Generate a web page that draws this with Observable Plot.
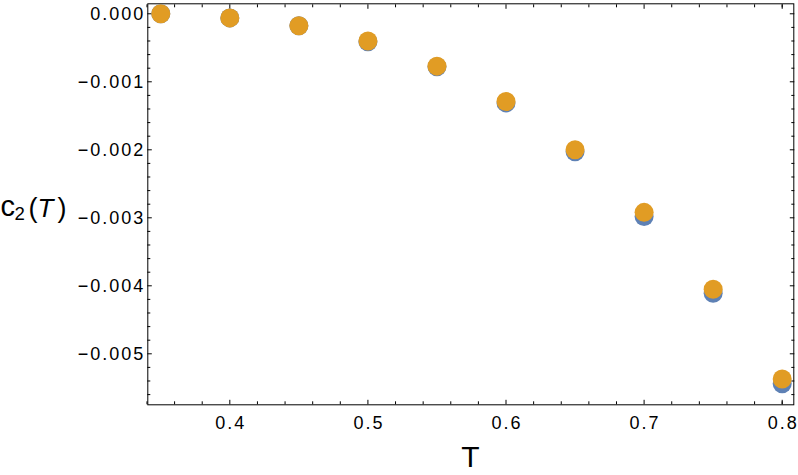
<!DOCTYPE html>
<html>
<head>
<meta charset="utf-8">
<script src="https://cdn.jsdelivr.net/npm/d3@7"></script>
<script src="https://cdn.jsdelivr.net/npm/@observablehq/plot@0.6"></script>
<style>
  html, body { margin: 0; padding: 0; background: #fff; }
  #chart svg { display: block; }
</style>
</head>
<body>
<div id="chart"></div>
<script>
const temps = [0.35, 0.40, 0.45, 0.50, 0.55, 0.60, 0.65, 0.70, 0.75, 0.80];
const seriesBlue = [0.0000, -0.00006, -0.000175, -0.00041, -0.00078, -0.00131, -0.00203, -0.00298, -0.00411, -0.00544];
const seriesOrange = [0.0000, -0.00006, -0.000175, -0.00040, -0.00077, -0.00129, -0.00200, -0.00292, -0.00405, -0.00537];
const xTicks = [0.4, 0.5, 0.6, 0.7, 0.8];
const xMinor = [0.34, 0.36, 0.38, 0.42, 0.44, 0.46, 0.48, 0.52, 0.54, 0.56, 0.58, 0.62, 0.64, 0.66, 0.68, 0.72, 0.74, 0.76, 0.78, 0.80];
const yTicks = [0, -0.001, -0.002, -0.003, -0.004, -0.005];
const yMinor = [-0.0002, -0.0004, -0.0006, -0.0008, -0.0012, -0.0014, -0.0016, -0.0018, -0.0022, -0.0024, -0.0026, -0.0028, -0.0032, -0.0034, -0.0036, -0.0038, -0.0042, -0.0044, -0.0046, -0.0048, -0.0052, -0.0054, -0.0056];

const blueData = temps.map((t, i) => ({T: t, c: seriesBlue[i]}));
const orangeData = temps.map((t, i) => ({T: t, c: seriesOrange[i]}));

const fmtY = d3.format(".3f");
const fmtX = d3.format(".1f");
const blank = () => "";
const FONT = "'Liberation Sans', Arial, Helvetica, sans-serif";

const W = 798, H = 475;
const chart = Plot.plot({
  width: W,
  height: H,
  marginLeft: 147.3,
  marginRight: 4.7,
  marginTop: 3.3,
  marginBottom: 70.7,
  style: {fontFamily: FONT, fontSize: "18px", color: "black", background: "white"},
  x: {domain: [0.3406, 0.8084], label: null},
  y: {domain: [-0.00575, 0.000147], label: null},
  marks: [
    // inward ticks on all four sides
    Plot.axisX({anchor: "bottom", ticks: xTicks, tickSize: -4.5, tickFormat: blank, label: null}),
    Plot.axisX({anchor: "bottom", ticks: xMinor, tickSize: -3, tickFormat: blank, label: null}),
    Plot.axisX({anchor: "top", ticks: xTicks, tickSize: -4.5, tickFormat: blank, label: null}),
    Plot.axisX({anchor: "top", ticks: xMinor, tickSize: -3, tickFormat: blank, label: null}),
    Plot.axisY({anchor: "left", ticks: yTicks, tickSize: -4.5, tickFormat: blank, label: null}),
    Plot.axisY({anchor: "left", ticks: yMinor, tickSize: -3, tickFormat: blank, label: null}),
    Plot.axisY({anchor: "right", ticks: yTicks, tickSize: -4.5, tickFormat: blank, label: null}),
    Plot.axisY({anchor: "right", ticks: yMinor, tickSize: -3, tickFormat: blank, label: null}),
    // tick labels
    Plot.axisX({anchor: "bottom", ticks: xTicks, tickSize: 0, tickPadding: 11, tickFormat: fmtX, label: null, dx: 1}),
    Plot.axisY({anchor: "left", ticks: yTicks, tickSize: 0, tickPadding: 2.6, tickFormat: fmtY, label: null}),
    Plot.frame({stroke: "black", strokeWidth: 1}),
    Plot.dot(blueData, {x: "T", y: "c", r: 9.5, fill: "#5E81B5", stroke: null}),
    Plot.dot(orangeData, {x: "T", y: "c", r: 9.5, fill: "#E19C24", stroke: null})
  ]
});

const svg = d3.select(chart);
svg.selectAll("text").style("letter-spacing", "2px");
// y label c2(T)
const yl = svg.append("text")
  .attr("y", 217)
  .attr("text-anchor", "start")
  .attr("font-family", FONT)
  .attr("font-size", 27)
  .attr("fill", "black");
yl.append("tspan").attr("x", 0.5).attr("font-size", 29).attr("dy", -1.5).text("c");
yl.append("tspan").attr("x", 14.5).attr("font-size", 18.6).attr("dy", 4.5).text("2");
yl.append("tspan").attr("x", 28.5).attr("dy", -3).text("(");
yl.append("tspan").attr("x", 37.5).attr("font-style", "italic").attr("font-size", 26).text("T");
yl.append("tspan").attr("x", 57.5).text(")");
// x label T
svg.append("text")
  .attr("x", 470.3)
  .attr("y", 466.7)
  .attr("text-anchor", "middle")
  .attr("font-family", FONT)
  .attr("font-size", 30)
  .attr("fill", "black")
  .text("T");

document.getElementById("chart").appendChild(chart);
</script>
</body>
</html>
